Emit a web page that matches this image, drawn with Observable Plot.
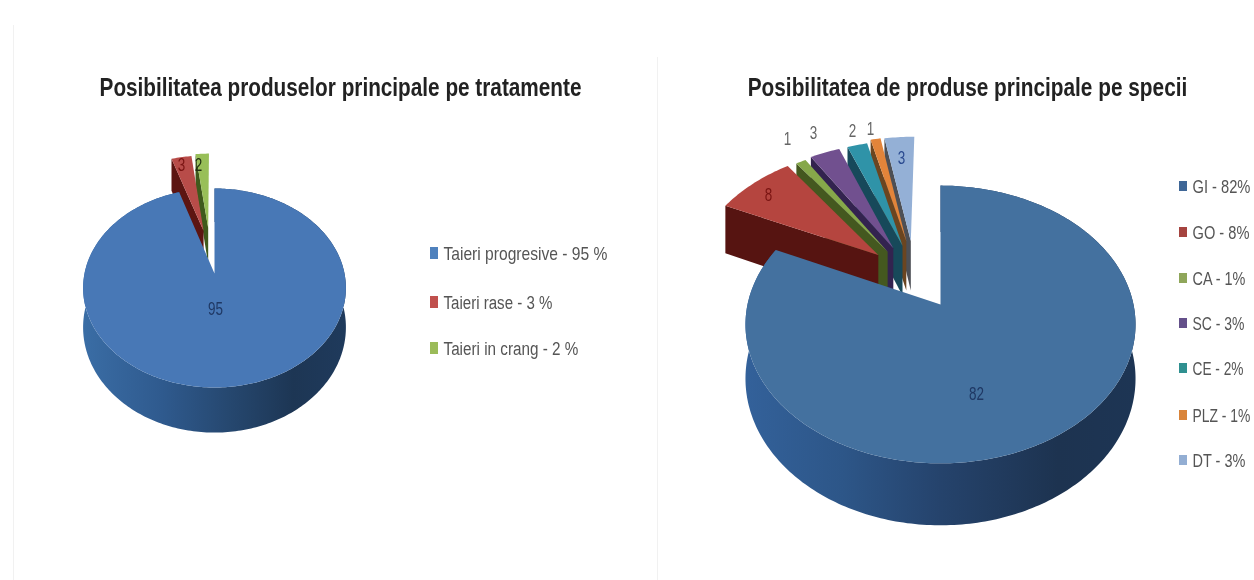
<!DOCTYPE html>
<html><head><meta charset="utf-8">
<style>html,body{margin:0;padding:0;background:#fff}svg{display:block}</style>
<script src="https://cdn.jsdelivr.net/npm/d3@7"></script>
<script src="https://cdn.jsdelivr.net/npm/@observablehq/plot@0.6"></script>
</head><body><div id="c"></div>
<script>
// Data
const titleLeft = "Posibilitatea produselor principale pe tratamente";
const titleRight = "Posibilitatea de produse principale pe specii";
const treatmentNames = ["Taieri progresive", "Taieri rase", "Taieri in crang"];
const treatmentValues = [95, 3, 2];
const speciesNames = ["GI", "GO", "CA", "SC", "CE", "PLZ", "DT"];
const speciesValues = [82, 8, 1, 3, 2, 1, 3];

// Styles
const leftTop = ["#4878b6", "#b84c49", "#98bf58"];
const leftWall = ["url(#sideL)", "#5c1512", "#3f5a1c"];
const rightTop = ["#44719f", "#b5453f", "#86a84a", "#71508f", "#2f93a8", "#e2843a", "#94b0d6"];
const rightWall = ["url(#sideR)", "#561411", "#44581f", "#33234f", "#17495a", "#6b4520", "#4d4f55"];
const legendLeft = ["#4f81bd", "#c0504d", "#9bbb59"];
const legendRight = ["#3f6797", "#a5433f", "#8fa65a", "#64508a", "#2f9090", "#d9843a", "#93aed3"];

// Layout
const pieL = {cx: 214, cy: 273, rx: 130, ry: 97.4, k: 0.1457, depth: 38.5};
const pieR = {cx: 940, cy: 304, rx: 193, ry: 136, k: 0.144, depth: 53};
const explodeL = [[0, 0], [-0.09, -0.47], [-0.052, -0.5]];
const explodeR = [[0, 0], [-0.34, -0.385], [-0.29, -0.41], [-0.26, -0.44], [-0.21, -0.46], [-0.19, -0.5], [-0.165, -0.5]];

const rad = d => d * Math.PI / 180;
function project(p, u, v, down) {
  const s = 1 / (1 - p.k * v);
  return {x: p.cx + p.rx * u * s, y: p.cy + p.ry * v * s + (down ? p.depth * s : 0)};
}
function slices(values, explode) {
  const total = d3.sum(values);
  let c = 0;
  return values.map((v, i) => {
    const a0 = 360 * c / total; c += v;
    return {i, a0, a1: 360 * c / total, eu: explode[i][0], ev: explode[i][1]};
  });
}
const pt = (p, s, a, r, down) => project(p, s.eu + r * Math.sin(rad(a)), s.ev - r * Math.cos(rad(a)), down);
function arc(p, s, down) {
  const pts = [];
  const n = Math.max(2, Math.ceil(s.a1 - s.a0));
  for (let j = 0; j <= n; ++j) pts.push(pt(p, s, s.a0 + (s.a1 - s.a0) * j / n, 1, down));
  return pts;
}
const poly = (pts, fill) => Plot.line(pts, {x: "x", y: "y", fill, stroke: "none", curve: "linear"});
function pieMarks(p, values, explode, topColors, wallColors) {
  const ss = slices(values, explode);
  const out = [];
  // back to front: last slice first, main slice last
  for (const s of ss.slice().reverse()) {
    if (s.i === 0) {
      out.push(poly([...arc(p, s, false), ...arc(p, s, true).reverse()], wallColors[0]));
    } else {
      out.push(poly([pt(p, s, s.a0, 0, false), pt(p, s, s.a0, 1, false), pt(p, s, s.a0, 1, true), pt(p, s, s.a0, 0, true)], wallColors[s.i]));
      out.push(poly([pt(p, s, s.a1, 0, false), pt(p, s, s.a1, 0, true), pt(p, s, s.a0, 0, true), pt(p, s, s.a0, 0, false)], wallColors[s.i]));
    }
    out.push(poly([pt(p, s, s.a0, 0, false), ...arc(p, s, false)], topColors[s.i]));
  }
  return out;
}

// Data labels
const labelsL = treatmentValues.map((v, i) => ({v: String(v), x: [215, 181, 198][i], y: [308, 164, 164][i], c: ["#1f3864", "#7a1412", "#1f2f10"][i]}));
const labelsR = speciesValues.map((v, i) => ({v: String(v), x: [976, 768, 787, 813, 852, 870, 901][i], y: [393, 194, 138, 132, 130, 128, 157][i], c: ["#1f3864", "#7a1412", "#666", "#666", "#666", "#666", "#2a4a90"][i]}));

// Legends
const legL = treatmentNames.map((n, i) => ({t: `${n} - ${treatmentValues[i]} %`, c: legendLeft[i], y: [253, 302, 348][i], w: [164, 109, 135][i], x0: 430, x1: 438, tx: 443, h: 6}));
const legR = speciesNames.map((n, i) => ({t: `${n} - ${speciesValues[i]}%`, c: legendRight[i], y: [186, 232, 278, 323, 368, 415, 460][i], w: [58, 57, 53, 52, 51, 58, 53][i], x0: 1179, x1: 1187, tx: 1192, h: 5}));
const legend = [...legL, ...legR];
const titles = [{t: titleLeft, x: 340, y: 87, w: 482}, {t: titleRight, x: 967, y: 87, w: 440}];
const widths = new Map([...legend.map(d => [d.t, d.w]), ...titles.map(d => [d.t, d.w])]);

const panels = [{x: 13, y1: 25, y2: 580}, {x: 657, y1: 57, y2: 580}];

const svg = Plot.plot({
  width: 1254, height: 580, margin: 0,
  x: {domain: [0, 1254], range: [0, 1254], axis: null},
  y: {domain: [0, 580], range: [0, 580], axis: null},
  style: {background: "#fff", filter: "blur(0.55px)"},
  marks: [
    Plot.ruleX(panels, {x: "x", y1: "y1", y2: "y2", stroke: "#f1f1f1"}),
    ...pieMarks(pieL, treatmentValues, explodeL, leftTop, leftWall),
    ...pieMarks(pieR, speciesValues, explodeR, rightTop, rightWall),
    Plot.text(titles, {x: "x", y: "y", text: "t", fontSize: 25, fontWeight: "bold", fontFamily: "Liberation Sans", fill: "#222", textAnchor: "middle", lineAnchor: "middle"}),
    Plot.rect(legend, {x1: "x0", x2: "x1", y1: d => d.y - d.h, y2: d => d.y + d.h, fill: "c"}),
    Plot.text(legend, {x: "tx", y: "y", text: "t", fontSize: 19, fontFamily: "Liberation Sans", fill: "#555", textAnchor: "start", lineAnchor: "middle"}),
    Plot.text([...labelsL, ...labelsR], {x: "x", y: "y", text: "v", fill: "c", fontSize: 19, fontFamily: "Liberation Sans", textAnchor: "middle", lineAnchor: "middle"})
  ],
  color: {type: "identity"}
});

const sel = d3.select(svg);
const defs = sel.insert("defs", ":first-child");
function grad(id, stops) {
  const g = defs.append("linearGradient").attr("id", id).attr("x1", 0).attr("x2", 1).attr("y1", 0).attr("y2", 0);
  stops.forEach(([o, c]) => g.append("stop").attr("offset", o).attr("stop-color", c));
}
grad("sideL", [[0, "#3a6da5"], [0.3, "#2f5a8e"], [0.55, "#264870"], [0.8, "#1d3654"], [1, "#1f3a5c"]]);
grad("sideR", [[0, "#33619a"], [0.25, "#2d5688"], [0.5, "#25436c"], [0.8, "#1d3350"], [1, "#1d3554"]]);
document.getElementById("c").appendChild(svg);
// the reference is a horizontally squeezed picture: scale each text to its measured width
sel.selectAll("text").each(function () {
  const t = this.textContent;
  const w = widths.get(t) || t.length * 7.5;
  const sx = w / this.getComputedTextLength();
  const tr = this.getAttribute("transform") || "";
  this.setAttribute("transform", `${tr} scale(${sx.toFixed(3)},1)`);
});
</script></body></html>
